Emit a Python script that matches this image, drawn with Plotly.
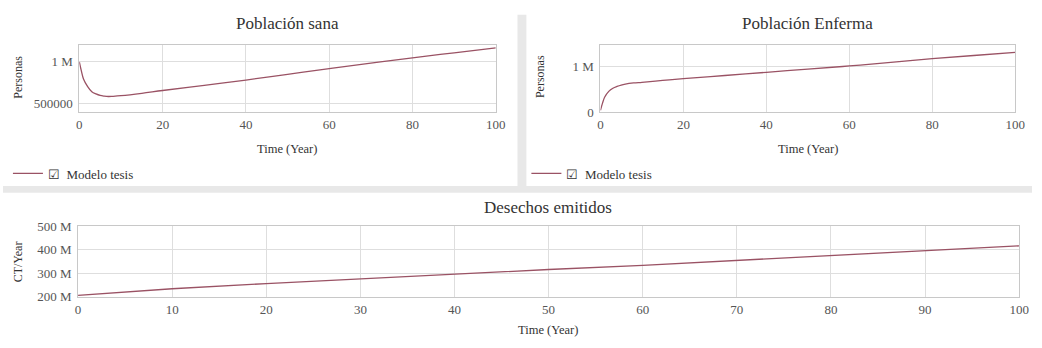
import plotly.graph_objects as go

# ---- data ----
t_sana = [0, 0.5, 1, 2, 3, 4, 5, 6, 7, 8, 10, 15, 20, 30, 40, 50, 60, 70, 80, 90, 100]
sana = [1000000, 890000, 797000, 706000, 645000, 618000, 600000, 592000, 588000, 590000,
        597000, 625000, 659000, 720000, 784000, 852000, 920000, 985000, 1049000, 1108000, 1167000]

t_enf = [0, 0.5, 1, 2, 3, 4, 5, 6, 8, 10, 15, 20, 30, 40, 50, 60, 70, 80, 90, 100]
enferma = [40000, 200000, 330000, 460000, 530000, 570000, 600000, 620000, 645000, 660000,
           700000, 740000, 810000, 880000, 950000, 1020000, 1100000, 1180000, 1250000, 1320000]

t_des = [0, 10, 20, 30, 40, 50, 60, 70, 80, 90, 100]
desechos = [205e6, 233e6, 255e6, 276e6, 295e6, 315e6, 333e6, 354e6, 374e6, 396e6, 416e6]

x_ticks_top = [0, 20, 40, 60, 80, 100]
x_ticks_bottom = [0, 10, 20, 30, 40, 50, 60, 70, 80, 90, 100]
sana_ticks = [500000, 1000000]
sana_ticktext = ["500000", "1 M"]
enf_ticks = [0, 1000000]
enf_ticktext = ["0", "1 M"]
des_ticks = [200e6, 300e6, 400e6, 500e6]
des_ticktext = ["200 M", "300 M", "400 M", "500 M"]

series_name = "☑\u00a0\u00a0Modelo tesis"

W, H = 1042, 348
def px(x):
    return x / W
def py(y):
    return 1 - y / H

FONT = "Liberation Serif, Times New Roman, serif"
LINE = "#9a5264"
GRID = "#dedede"
BORDER = "#c8c8c8"
TXT = "#333333"
TICK = "#555555"

fig = go.Figure()
fig.add_trace(go.Scatter(x=t_sana, y=sana, mode="lines", line=dict(color=LINE, width=1.3, shape="spline"),
                         name=series_name, xaxis="x", yaxis="y", legend="legend"))
fig.add_trace(go.Scatter(x=t_enf, y=enferma, mode="lines", line=dict(color=LINE, width=1.3, shape="spline"),
                         name=series_name, xaxis="x2", yaxis="y2", legend="legend2"))
fig.add_trace(go.Scatter(x=t_des, y=desechos, mode="lines", line=dict(color=LINE, width=1.3),
                         name=series_name, xaxis="x3", yaxis="y3", showlegend=False))

axis_common = dict(showgrid=True, gridcolor=GRID, gridwidth=1, showline=True, linecolor=BORDER,
                   mirror=True, zeroline=False, ticks="", tickfont=dict(family=FONT, size=13, color=TICK))
yaxis_common = dict(axis_common, ticklabelstandoff=3)

fig.update_layout(
    width=W, height=H, margin=dict(l=0, r=0, t=0, b=0),
    paper_bgcolor="white", plot_bgcolor="white",
    font=dict(family=FONT, color=TXT),
    xaxis=dict(domain=[px(77.3), px(499)], range=[0, 100], tickvals=x_ticks_top, anchor="y", **axis_common),
    yaxis=dict(domain=[py(110), py(39.3)], range=[400000, 1206000], tickvals=sana_ticks,
               ticktext=sana_ticktext, anchor="x", **yaxis_common),
    xaxis2=dict(domain=[px(605), px(1025)], range=[0, 100], tickvals=x_ticks_top, anchor="y2", **axis_common),
    yaxis2=dict(domain=[py(110), py(39.3)], range=[0, 1490000], tickvals=enf_ticks,
                ticktext=enf_ticktext, anchor="x2", **yaxis_common),
    xaxis3=dict(domain=[px(76), px(1029)], range=[0, 100], tickvals=x_ticks_bottom, anchor="y3", **axis_common),
    yaxis3=dict(domain=[py(303), py(229)], range=[198e6, 500e6], tickvals=des_ticks,
                ticktext=des_ticktext, anchor="x3", **yaxis_common),
    legend=dict(x=px(5), y=py(174), xanchor="left", yanchor="middle", bgcolor="rgba(0,0,0,0)",
                font=dict(family=FONT, size=13, color=TXT), itemwidth=30),
    legend2=dict(x=px(530), y=py(174), xanchor="left", yanchor="middle", bgcolor="rgba(0,0,0,0)",
                 font=dict(family=FONT, size=13, color=TXT), itemwidth=30),
    shapes=[
        dict(type="rect", xref="paper", yref="paper", x0=px(521), x1=px(530), y0=py(188), y1=py(8),
             fillcolor="#e8e8e8", line=dict(width=0), layer="below"),
        dict(type="rect", xref="paper", yref="paper", x0=0, x1=1, y0=py(194), y1=py(187),
             fillcolor="#e8e8e8", line=dict(width=0), layer="below"),
    ],
)

annotations = [
    dict(text="Población sana", x=px(288), y=py(17), font=dict(size=17, color=TXT)),
    dict(text="Población Enferma", x=px(815), y=py(17), font=dict(size=17, color=TXT)),
    dict(text="Desechos emitidos", x=px(552), y=py(210), font=dict(size=17, color=TXT)),
    dict(text="Time (Year)", x=px(288), y=py(148), font=dict(size=12.5, color=TXT)),
    dict(text="Time (Year)", x=px(815), y=py(148), font=dict(size=12.5, color=TXT)),
    dict(text="Time (Year)", x=px(552), y=py(338), font=dict(size=12.5, color=TXT)),
    dict(text="Personas", x=px(15), y=py(73), textangle=-90, font=dict(size=12, color=TXT)),
    dict(text="Personas", x=px(544), y=py(73), textangle=-90, font=dict(size=12, color=TXT)),
    dict(text="CT/Year", x=px(15), y=py(266), textangle=-90, font=dict(size=12, color=TXT)),
]
for a in annotations:
    a.update(xref="paper", yref="paper", showarrow=False, xanchor="center", yanchor="middle")
    a["font"]["family"] = FONT
fig.update_layout(annotations=annotations)

fig.write_html("out.html", config={"displayModeBar": False},
               post_script="document.documentElement.style.margin='0';document.body.style.margin='0';"
                           "document.body.style.overflow='hidden';")
